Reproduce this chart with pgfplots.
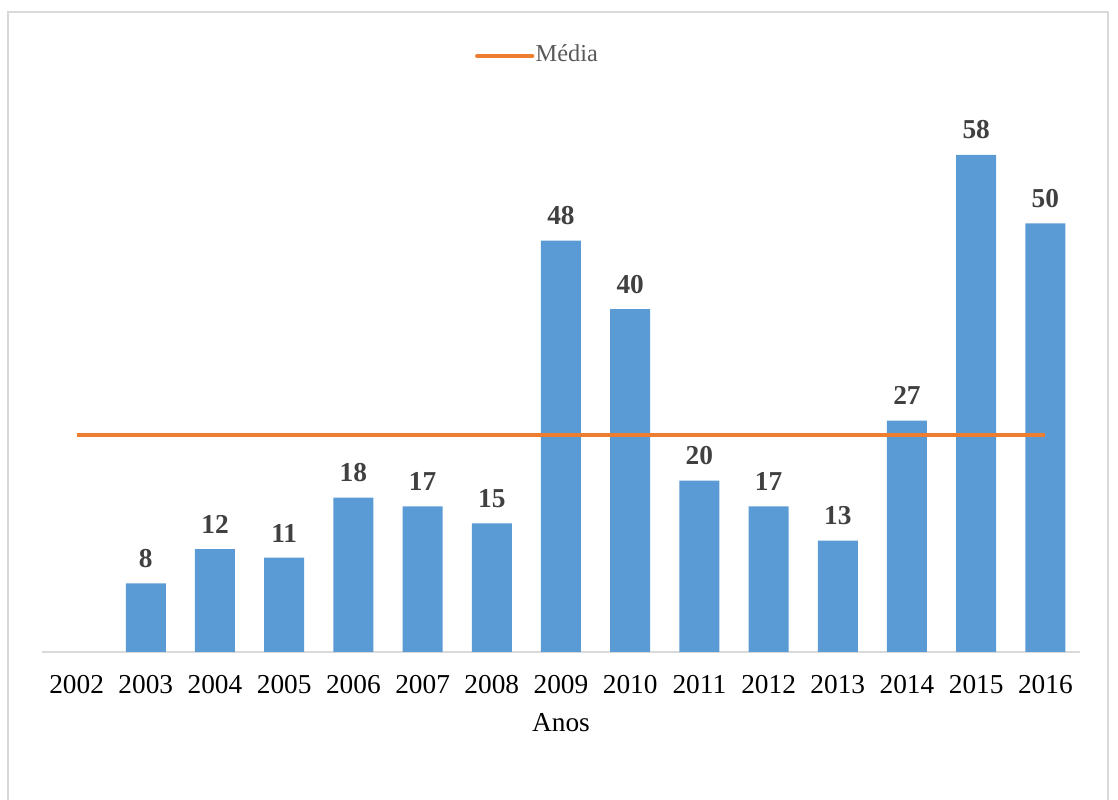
\documentclass[border=0pt]{standalone}
\usepackage{pgfplots}
\pgfplotsset{compat=1.18}
\usepackage{fontspec}
\setmainfont{Liberation Serif}
\definecolor{barblue}{HTML}{5B9BD5}
\definecolor{meanorange}{HTML}{ED7D31}
\definecolor{gridgray}{HTML}{D9D9D9}
\definecolor{labgray}{HTML}{404040}
\definecolor{leggray}{HTML}{595959}
\begin{document}
\begin{tikzpicture}
\useasboundingbox (0,0) rectangle (335.4pt,240pt);
\draw[gridgray, line width=0.6pt] (2.4pt,236.4pt) rectangle (332.4pt,-5pt);
\begin{axis}[
  at={(12.6pt,44.4pt)}, anchor=south west,
  scale only axis,
  width=311.4pt, height=165.6pt,
  xmin=-0.5, xmax=14.5, ymin=0, ymax=64.4,
  axis x line=bottom, axis y line=none,
  x axis line style={draw=gridgray, line width=0.6pt, -},
  major tick length=0pt,
  xtick={0,...,14},
  xticklabels={2002,2003,2004,2005,2006,2007,2008,2009,2010,2011,2012,2013,2014,2015,2016},
  xticklabel style={font=\fontsize{8.2}{9}\selectfont, anchor=north, inner sep=0pt, yshift=-6.9pt},
  xlabel={Anos},
  xlabel style={at={(axis description cs:0.5,0)}, anchor=center, yshift=-21.3pt, font=\fontsize{8.2}{9}\selectfont},
  /pgf/number format/assume math mode=true,
  legend style={at={(0.477,1.0797)}, anchor=center, draw=none, fill=none,
    font=\fontsize{7.3}{8}\selectfont\color{leggray}, inner sep=0pt,
    nodes={inner sep=0.4pt},
    /tikz/every odd column/.append style={column sep=0pt}},
  legend image code/.code={\draw[line width=1.3pt, line cap=round] (0pt,0pt) -- (16.5pt,0pt);},
  clip=false,
]
\addplot[ybar, bar width=12pt, fill=barblue, draw=none,
  nodes near coords,
  nodes near coords style={font=\fontsize{8.2}{9}\selectfont\bfseries, color=labgray, anchor=south, inner sep=0pt, yshift=4.5pt},
  forget plot]
  coordinates {(1,8) (2,12) (3,11) (4,18) (5,17) (6,15) (7,48) (8,40) (9,20) (10,17) (11,13) (12,27) (13,58) (14,50)};
\addplot[meanorange, line width=1.3pt, no marks] coordinates {(0,25.29) (14,25.29)};
\addlegendentry{Média}
\end{axis}
\end{tikzpicture}
\end{document}
